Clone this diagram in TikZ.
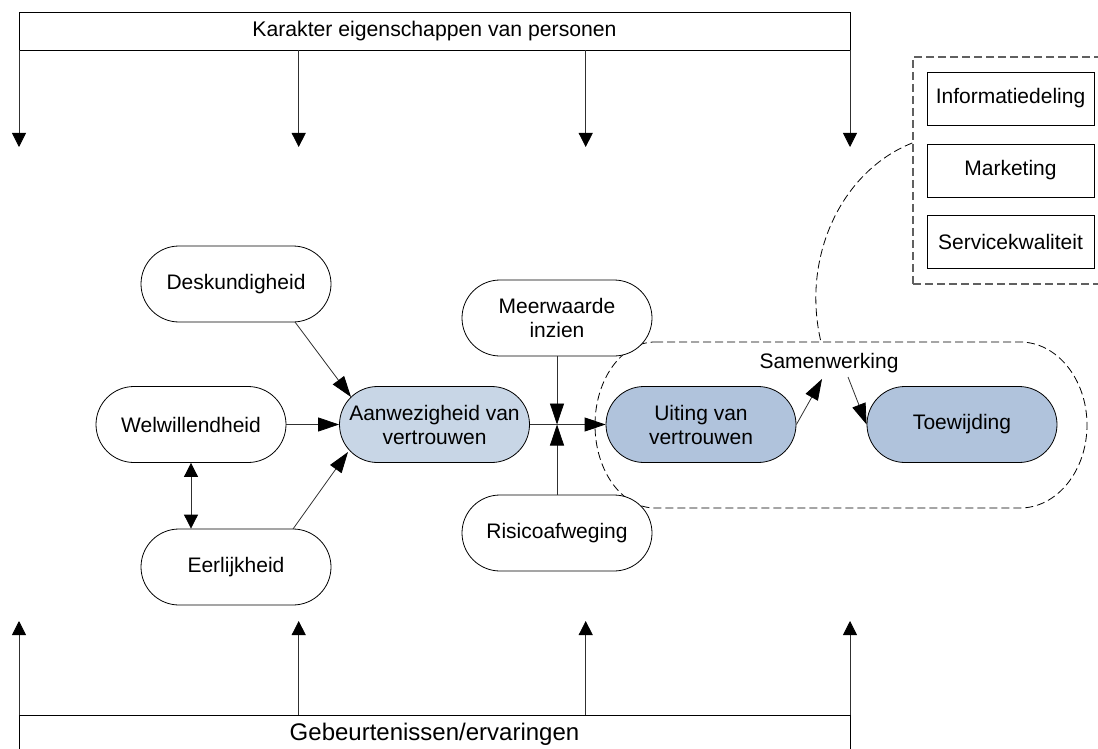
\documentclass[tikz,border=0pt]{standalone}
\usepackage{fontspec}
\setmainfont{Liberation Sans}
\usetikzlibrary{arrows.meta,calc}

\definecolor{trustlight}{HTML}{C8D6E6}
\definecolor{trustdark}{HTML}{B0C3DC}
\definecolor{grpgray}{HTML}{606060}
\definecolor{linegray}{HTML}{303030}

\begin{document}
\begin{tikzpicture}[x=1pt,y=-1pt,
  pill/.style={rectangle, rounded corners=38pt, draw=black, line width=0.8pt,
    minimum width=190pt, minimum height=76pt, inner sep=0pt, align=center,
    fill=white, font=\fontsize{21}{24}\selectfont},
  band/.style={rectangle, draw=black, line width=0.8pt, minimum width=831pt,
    minimum height=38pt, inner sep=0pt},
  itembox/.style={rectangle, draw=black, line width=0.8pt, minimum width=167pt,
    minimum height=53pt, inner sep=0pt, font=\fontsize{21}{24}\selectfont},
  conn/.style={draw=linegray, line width=0.8pt},
  longtip/.style={conn, -{Triangle[length=21pt,width=14pt,black]}},
  shorttip/.style={conn, -{Triangle[length=14pt,width=14pt,black]}},
  bothtips/.style={conn, {Triangle[length=14pt,width=14pt,black]}-{Triangle[length=14pt,width=14pt,black]}},
  container/.style={draw=black, line width=0.8pt, dash pattern=on 8pt off 4pt},
  groupbox/.style={rectangle, draw=grpgray, line width=1.5pt, dash pattern=on 8pt off 4pt,
    minimum width=197pt, minimum height=227pt, inner sep=0pt},
]
\useasboundingbox (0,0) rectangle (1098,749);
\begin{scope}
\clip (0,0) rectangle (1098,749);

% upper and lower bands with their arrows
\node[band, font=\fontsize{21.2}{24}\selectfont] (top) at (434.5,31) {Karakter eigenschappen van personen};
\node[band, font=\fontsize{24}{28}\selectfont] (bot) at (434.5,734) {Gebeurtenissen/ervaringen};

\coordinate (d1) at (19,147);
\coordinate (d2) at (298.7,147);
\coordinate (d3) at (585.7,147);
\coordinate (d4) at (850,147);
\coordinate (u1) at (19,621);
\coordinate (u2) at (298.7,621);
\coordinate (u3) at (585.7,621);
\coordinate (u4) at (850,621);
\foreach \k in {1,...,4}{
  \draw[shorttip] (d\k |- top.south) -- (d\k);
  \draw[shorttip] (u\k |- bot.north) -- (u\k);
}

% grouped activities on the right
\node[groupbox] (grp) at (1011.5,170.5) {};
\node[itembox] (info) at (1010.5,98.5) {Informatiedeling};
\node[itembox] (mark) at (1010.5,170.5) {Marketing};
\node[itembox] (serv) at (1010.5,242) {Servicekwaliteit};

% cooperation container
\draw[container] (655,342) -- (1020,342)
  .. controls (1057,342) and (1087,379.2) .. (1087,425)
  .. controls (1087,470.8) and (1057,508) .. (1020,508)
  -- (655,508)
  .. controls (621.9,508) and (595,470.8) .. (595,425)
  .. controls (595,379.2) and (621.9,342) .. cycle;
\coordinate (samtop) at (821,342);
\draw[container] ([yshift=27.5pt]grp.west)
  .. controls (841.5,171) and (800.8,257.2) .. (samtop);
\node[inner sep=0pt, font=\fontsize{21}{24}\selectfont] (samen) at (829,363) {Samenwerking};

% factors
\node[pill] (desk) at (236,284) {Deskundigheid};
\node[pill] (welw) at (191,424.5) {Welwillendheid};
\node[pill] (eerl) at (236,567) {Eerlijkheid};
\node[pill, fill=trustlight] (aanw) at (434.5,424.5) {Aanwezigheid van\\vertrouwen};
\node[pill] (meer) at (557,318) {Meerwaarde\\inzien};
\node[pill] (risk) at (557,533) {Risicoafweging};
\node[pill, fill=trustdark] (uit) at (701,424.5) {Uiting van\\vertrouwen};
\node[pill, fill=trustdark] (toew) at (962,424.5) {Toewijding};

% connectors
\draw[longtip] ($(desk.center)+(59,38)$) -- ($(aanw.center)+(-83.5,-27.5)$);
\draw[longtip] (welw.east) -- (aanw.west);
\draw[longtip] ($(eerl.center)+(57,-38)$) -- ($(aanw.center)+(-86.5,27.5)$);
\draw[bothtips] (welw.south) -- (welw.south |- eerl.north);
\coordinate (junc) at (meer.south |- aanw.east);
\draw[longtip] (meer.south) -- (junc);
\draw[longtip] (risk.north) -- (junc);
\draw[longtip] (aanw.east) -- (uit.west);
\draw[longtip] (uit.east) -- ($(samen.center)+(-7,16)$);
\draw[longtip] ($(samen.center)+(19,14)$) -- (toew.west);
\end{scope}
\end{tikzpicture}
\end{document}
